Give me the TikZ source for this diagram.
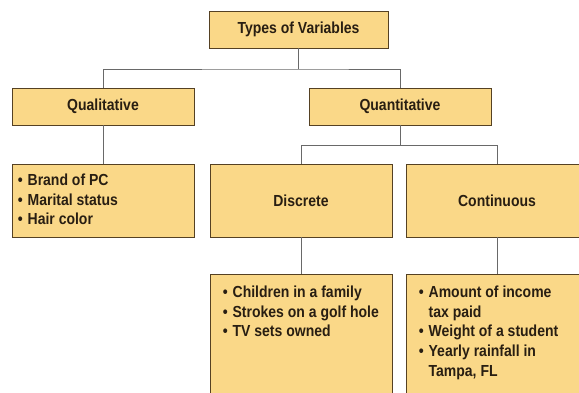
\documentclass[tikz,border=0pt]{standalone}
\usepackage{fontspec}
\setmainfont{Liberation Sans}[FakeStretch=0.875]
\usepackage{tikz}

\definecolor{boxfill}{RGB}{250,216,136}
\definecolor{boxline}{RGB}{85,65,35}
\definecolor{txt}{RGB}{40,30,18}
\definecolor{linegray}{RGB}{105,105,105}

\newcommand{\bul}{\textbullet\hspace{5pt}}
\newcommand{\nobul}{\hphantom{\bul}}

\begin{document}
\begin{tikzpicture}[x=1pt, y=-1pt,
		box/.style={draw=boxline, fill=boxfill, line width=0.9pt, inner sep=0pt, minimum width=182pt, text=txt, font=\bfseries\fontsize{16}{19.5}\selectfont},
		head/.style={box, minimum height=37pt},
		tall/.style={box, minimum height=73pt},
		list/.style={inner sep=0pt, anchor=north west, align=left, text=txt, font=\bfseries\fontsize{16}{19.8}\selectfont},
		link/.style={draw=linegray, line width=0.8pt}]
			\useasboundingbox (0, 0) rectangle (579, 393);
			\clip (0, 0) rectangle (579, 393);

			\node[head, minimum width=179pt] (types) at (298.5, 29.5) {Types of Variables};
			\node[head] (qual) at (103, 106.5) {Qualitative};
			\node[head] (quant) at (400, 106.5) {Quantitative};

			\node[tall] (brand) at (103, 200.5) {};
			\node[tall] (discrete) at (301, 200.5) {Discrete};
			\node[tall] (contin) at (497, 200.5) {Continuous};

			\node[box, minimum height=140pt] (children) at (301, 344) {};
			\node[box, minimum height=140pt] (amount) at (497, 344) {};

			\node[list] (brandlist) at ([shift={(6, 10)}]brand.north west)
			{\bul Brand of PC\\ \bul Marital status\\ \bul Hair color};
			\node[list] (childlist) at ([shift={(13, 12)}]children.north west)
			{\bul Children in a family\\ \bul Strokes on a golf hole\\ \bul TV sets owned};
			\node[list] (amountlist) at ([shift={(13, 12)}]amount.north west)
			{\bul Amount of income\\ \nobul tax paid\\ \bul Weight of a student\\ \bul Yearly rainfall in\\ \nobul Tampa, FL};

			\coordinate (split1) at (types.south |- 0, 69);
			\coordinate (split2) at (discrete.north |- 0, 145);
			\draw[link] (types.south) -- (split1);
			\draw[link] (qual.north) |- (split1) -| (quant.north);
			\draw[link] (quant.south) -- (quant.south |- split2);
			\draw[link] (discrete.north) -- (split2) -| (contin.north);
			\draw[link] (qual) -- (brand);
			\draw[link] (discrete) -- (children);
			\draw[link] (contin) -- (amount);

		\end{tikzpicture}
\end{document}
